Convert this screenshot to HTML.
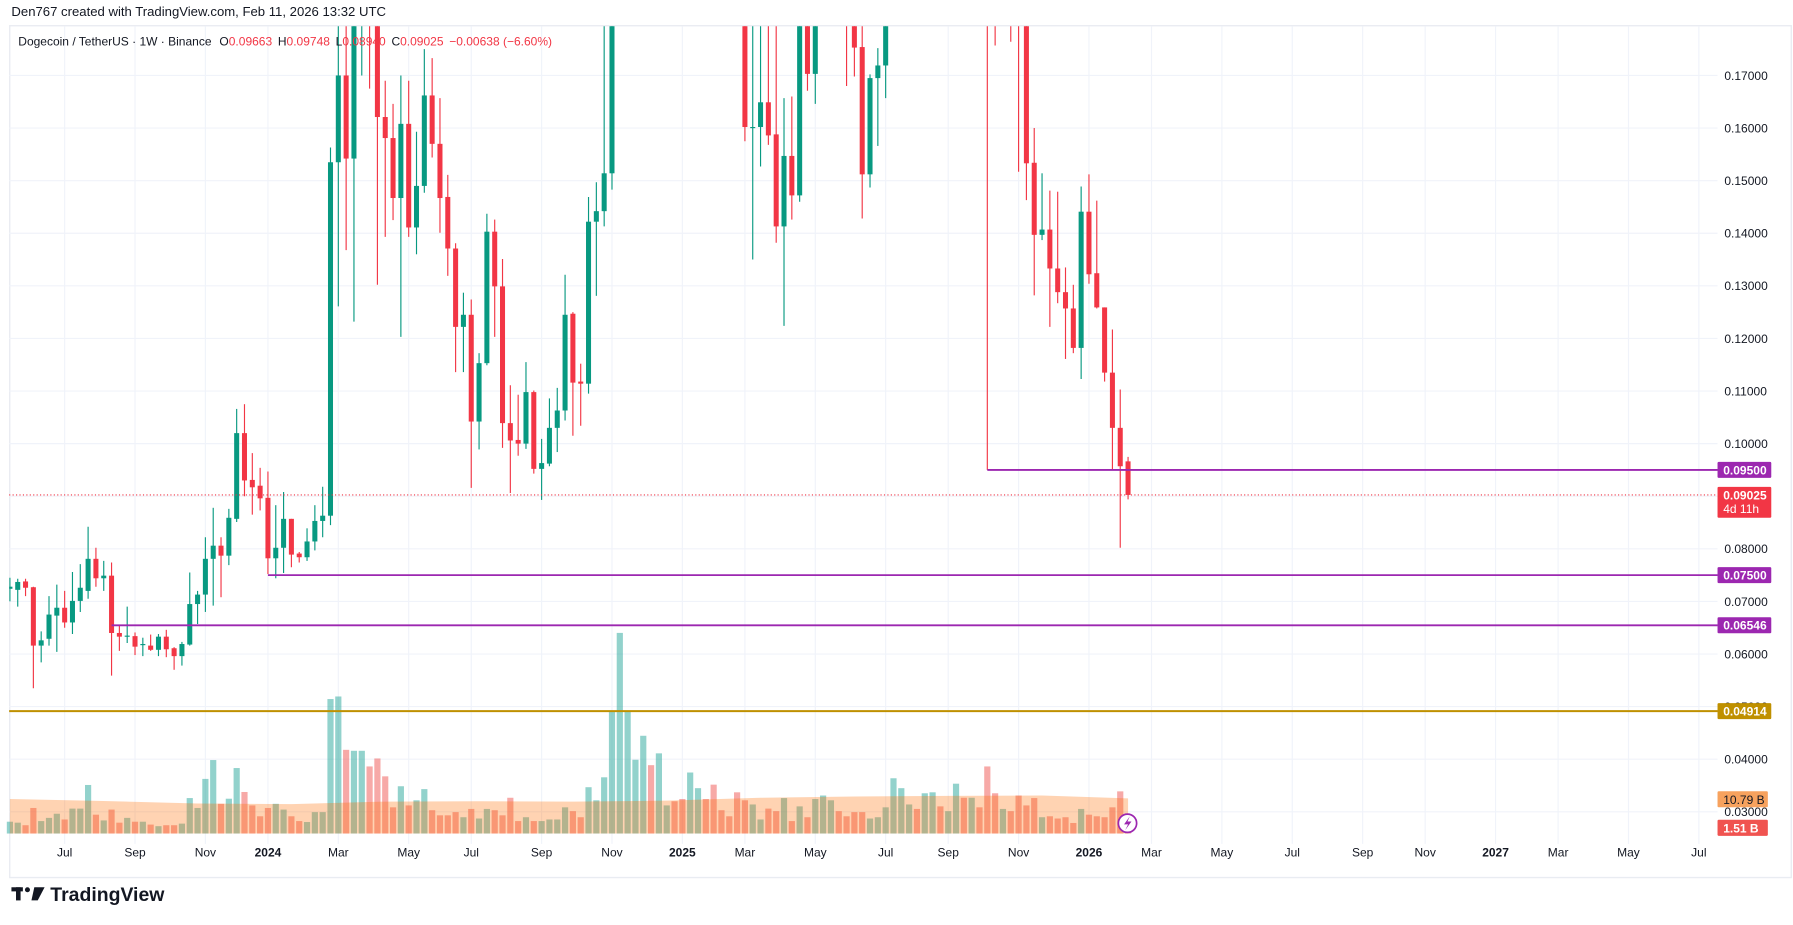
<!DOCTYPE html>
<html><head><meta charset="utf-8">
<style>
html,body{margin:0;padding:0;background:#fff;}
svg{display:block;font-family:"Liberation Sans",sans-serif;}
</style></head>
<body>
<svg id="chart" xmlns="http://www.w3.org/2000/svg" width="1793" height="925" viewBox="0 0 1568 809" preserveAspectRatio="none">
  <rect x="0" y="0" width="1568" height="809" fill="#ffffff"/>
  <text x="10" y="14" font-size="11.5" fill="#131722">Den767 created with TradingView.com, Feb 11, 2026 13:32 UTC</text>
  <rect x="8.5" y="22.5" width="1558" height="745" fill="none" stroke="#e9ecf2" stroke-width="1.2"/>
  <g id="grid"></g>
  <g id="volume"></g>
  <g id="candles" clip-path="url(#plotclip)"></g>
  <defs><clipPath id="plotclip"><rect x="8" y="23" width="1494" height="715"/></clipPath></defs>
  <g id="levels"></g>
  <g id="yaxis"></g>
  <g id="xaxis"></g>
  <text x="16" y="40" font-size="10.5" fill="#131722">Dogecoin / TetherUS · 1W · Binance  <tspan dx="4">O</tspan><tspan fill="#f23645">0.09663</tspan><tspan dx="5">H</tspan><tspan fill="#f23645">0.09748</tspan><tspan dx="5">L</tspan><tspan fill="#f23645">0.08940</tspan><tspan dx="5">C</tspan><tspan fill="#f23645">0.09025</tspan><tspan dx="5" fill="#f23645">−0.00638 (−6.60%)</tspan></text>
  <g>
    <circle cx="986" cy="720" r="8" fill="#fff" stroke="#9c27b0" stroke-width="1.5"/>
    <path d="M988 714 L983 721 L986.5 721 L984 726 L989.5 718.5 L986 718.5 Z" fill="#9c27b0"/>
  </g>
  <g>
    <rect x="10" y="776" width="10" height="3.6" fill="#131722"/>
    <rect x="14" y="776" width="4" height="11.5" fill="#131722"/>
    <circle cx="24" cy="778.2" r="2.2" fill="#131722"/>
    <path d="M30 776 L39 776 L33 787.5 L27.5 787.5 Z" fill="#131722"/>
    <text x="44" y="788" font-size="17" font-weight="bold" fill="#131722">TradingView</text>
  </g>
</svg>
<script>
// ---- data ----
const opens = [.0724,.0722,.0738,.0727,.0616,.0629,.0673,.0688,.0660,.0701,.0720,.0781,.0744,.0749,.0640,.0633,.0634,.0617,.0616,.0608,.0633,.0611,.0596,.0618,.0695,.0713,.0781,.0806,.0787,.0857,.1020,.0931,.0920,.0897,.0782,.0802,
.0857,.0791,.0784,.0814,.0853,.0863,.1535,.1700,.1542,.1850,.2000,.1900,.1621,.1581,.1467,.1608,.1411,.1490,.1662,.1570,.1469,.1371,.1222,.1245,.1042,.1153,.1403,.1299,.1039,.1007,.1000,.1098,.0952,.0962,.1030,.1063,.1247,
.1118,.1114,.1422,.1442,.1514,.190,.220,.25,.30,.40,.39,.42,.44,.40,.32,.34,.38,.36,.33,.27,.25,.210,.1600,.1602,.1649,.1588,.1413,.1547,.1472,.1900,.1703,.19,.21,.23,.200,.200,
.1754,.1512,.1695,.1719,.19,.20,.23,.24,.22,.23,.24,.22,.23,.26,.25,.26,.250,.200,.195,.205,.195,.183,.1534,.1397,.1407,.1333,.1288,.1257,.1182,.1441,.1324,.1259,.1135,.1030,.09663];
const highs = [.0745,.0743,.0743,.0728,.0643,.0710,.0732,.0720,.0756,.0771,.0842,.0802,.0777,.0774,.0655,.0690,.0641,.0631,.0637,.0638,.0646,.0613,.0623,.0755,.0720,.0822,.0878,.0822,.0876,.1066,.1075,.0982,.0954,.0947,.0883,.0908,
.0857,.0794,.0839,.0883,.0918,.1563,.1850,.1850,.2000,.2280,.2100,.2000,.1690,.1646,.1700,.1690,.1593,.1750,.1733,.1657,.1511,.1381,.1287,.1274,.1172,.1437,.1426,.1351,.1111,.1093,.1155,.1101,.1009,.1086,.1106,.1321,.1250,
.1152,.1469,.1497,.1800,.2000,.230,.260,.32,.43,.48,.44,.48,.45,.42,.35,.41,.43,.37,.34,.29,.26,.230,.1900,.1900,.1900,.1900,.1657,.1660,.2000,.2000,.2000,.22,.25,.25,.210,.210,
.1900,.1702,.1752,.2000,.21,.24,.26,.25,.24,.25,.26,.24,.27,.29,.27,.27,.270,.215,.210,.215,.200,.190,.1600,.1514,.1481,.1479,.1335,.1302,.1489,.1512,.1462,.1259,.1217,.1103,.09748];
const lows = [.0700,.0690,.0710,.0535,.0584,.0616,.0604,.0650,.0638,.0680,.0705,.0728,.0720,.0559,.0606,.0621,.0598,.0596,.0606,.0596,.0594,.0570,.0578,.0616,.0657,.0680,.0692,.0708,.0769,.0851,.0900,.0865,.0873,.0752,.0744,.0754,
.0765,.0774,.0777,.0797,.0822,.0845,.1261,.1368,.1232,.1700,.1675,.1302,.1393,.1425,.1203,.1393,.1360,.1477,.1544,.1401,.1319,.1136,.1136,.0916,.0989,.1149,.1203,.0992,.0906,.0977,.0990,.0943,.0893,.0957,.0984,.1044,.1015,
.1034,.1095,.1281,.1413,.1483,.185,.200,.24,.29,.36,.37,.40,.38,.30,.30,.33,.35,.30,.24,.23,.21,.1575,.1350,.1527,.1568,.1382,.1224,.1426,.1460,.1671,.1646,.185,.20,.19,.1680,.1698,
.1428,.1487,.1566,.1657,.185,.195,.22,.21,.20,.22,.21,.20,.22,.24,.23,.24,.0950,.1757,.185,.1764,.1517,.1463,.1282,.1387,.1222,.1267,.1161,.1172,.1123,.1304,.1257,.1118,.0950,.0802,.0894];
const closes = [.0728,.0737,.0726,.0616,.0626,.0675,.0688,.0660,.0701,.0726,.0781,.0744,.0749,.0640,.0633,.0635,.0614,.0619,.0608,.0633,.0609,.0596,.0619,.0695,.0713,.0781,.0806,.0787,.0859,.1020,.0930,.0917,.0896,.0782,.0802,.0857,
.0789,.0784,.0814,.0853,.0863,.1535,.1700,.1542,.1900,.2050,.1900,.1621,.1581,.1467,.1608,.1411,.1490,.1662,.1570,.1467,.1371,.1222,.1245,.1042,.1153,.1403,.1299,.1039,.1006,.1000,.1098,.0952,.0963,.1030,.1063,.1245,.1116,
.1114,.1422,.1442,.1514,.1900,.220,.250,.30,.40,.39,.42,.44,.40,.32,.34,.38,.36,.33,.27,.25,.22,.1602,.1602,.1649,.1586,.1413,.1547,.1472,.1900,.1703,.1900,.21,.23,.20,.190,.1753,
.1512,.1695,.1719,.1900,.20,.23,.24,.22,.23,.24,.22,.23,.26,.25,.26,.25,.200,.195,.205,.190,.183,.1533,.1397,.1407,.1333,.1288,.1257,.1182,.1441,.1322,.1259,.1135,.1030,.0957,.09025];
const volumes = [3.7,3.4,2.6,8.0,3.9,4.9,6.2,4.4,7.8,7.8,15.2,5.9,4.1,7.5,3.4,4.9,3.7,3.7,2.8,2.3,2.6,2.6,3.1,11.1,8.0,17.1,23.0,9.3,10.9,20.5,13.0,8.8,5.4,8.0,9.3,7.5,
5.4,3.9,3.6,6.7,6.7,42.1,42.9,26.2,25.9,25.9,21.0,23.5,17.9,8.2,14.8,8.8,10.4,13.9,7.3,5.7,5.7,6.7,5.1,7.7,4.7,7.7,7.3,5.7,11.2,3.9,5.1,3.9,3.9,4.4,4.4,8.2,7.0,
5.1,14.5,10.4,17.6,38.5,62.8,38.5,23.1,30.6,21.4,25.1,8.8,10.1,10.8,19.1,14.2,10.8,15.3,7.3,5.4,12.9,10.4,9.1,4.4,7.8,7.0,11.1,3.9,8.5,5.1,10.8,11.9,10.4,7.0,5.4,6.7,
6.7,4.7,5.1,8.2,17.3,14.2,9.1,7.7,12.6,12.9,8.5,7.0,15.6,11.2,11.2,8.2,21.0,12.6,7.7,7.0,11.9,8.8,11.1,5.1,5.4,4.7,5.1,3.3,7.7,5.9,5.4,5.1,8.2,13.2,2.4];
const volMA = [10.8,10.2,9.4,9.2,10.0,10.1,10.0,10.3,11.2,11.6,11.8,11.9,11.0];
const priceTicks = [0.03,0.04,0.05,0.06,0.07,0.08,0.09,0.10,0.11,0.12,0.13,0.14,0.15,0.16,0.17];
const timeLabels = ["Jul","Sep","Nov","2024","Mar","May","Jul","Sep","Nov","2025","Mar","May","Jul","Sep","Nov","2026","Mar","May","Jul","Sep","Nov","2027","Mar","May","Jul"];
const timeDates = ["2023-07-01","2023-09-01","2023-11-01","2024-01-01","2024-03-01","2024-05-01","2024-07-01","2024-09-01","2024-11-01","2025-01-01","2025-03-01","2025-05-01","2025-07-01","2025-09-01","2025-11-01","2026-01-01","2026-03-01","2026-05-01","2026-07-01","2026-09-01","2026-11-01","2027-01-01","2027-03-01","2027-05-01","2027-07-01"];
const levelValues = [0.095,0.075,0.06546,0.04914];
const levelLabels = ["0.09500","0.07500","0.06546","0.04914"];
const lastPrice = 0.09025;

// ---- layout ----
const NS = "http://www.w3.org/2000/svg";
const PL = 8, PR = 1502, PT = 23, PB = 738;
const X_LAST = 986.5, STEP = 6.838;
const N = closes.length;
function xOf(i){ return X_LAST - (N-1-i)*STEP; }
function yOf(p){ return 66 + (0.17 - p)*4600; }
const VOL_BASE = 729, VOL_PX = 2.794;
function yVol(v){ return VOL_BASE - v*VOL_PX; }
const LAST_DATE = Date.UTC(2026,1,9);
function xOfDate(s){
  let d = new Date(s+"T00:00:00Z");
  while (d.getUTCDay() !== 1) d = new Date(d.getTime()+86400000);
  const weeks = Math.round((d.getTime()-LAST_DATE)/(7*86400000));
  return X_LAST + weeks*STEP;
}
function mk(tag, attrs, parent){
  const e = document.createElementNS(NS, tag);
  for (const k in attrs) e.setAttribute(k, attrs[k]);
  parent.appendChild(e); return e;
}
const gGrid = document.getElementById('grid');
const gVol = document.getElementById('volume');
const gC = document.getElementById('candles');
const gLev = document.getElementById('levels');
const gY = document.getElementById('yaxis');
const gX = document.getElementById('xaxis');

// grid + price ticks
priceTicks.forEach(function(p){
  const y = yOf(p);
  const l = mk('line',{x1:PL,x2:PR,y1:y,y2:y,stroke:'#f0f3fa','stroke-width':1},gGrid);
  
  
  const t = mk('text',{x:1508,y:y+3.8,'font-size':10.5,fill:'#131722'},gY);
  t.textContent = p.toFixed(5);
  
  
});
timeLabels.forEach(function(lab,i){
  const x = xOfDate(timeDates[i]);
  const l = mk('line',{x1:x,x2:x,y1:PT,y2:PB,stroke:'#f0f3fa','stroke-width':1},gGrid);
  
  
  const isYear = /^\d{4}$/.test(lab);
  const t = mk('text',{x:x,y:749,'font-size':10.5,'text-anchor':'middle',fill:'#131722','font-weight':isYear?'bold':'normal'},gX);
  t.textContent = lab;
  
  
});

// volume bars
for (let i=0;i<N;i++){
  const up = closes[i] >= opens[i];
  const x = xOf(i);
  const y = yVol(volumes[i]);
  const r = mk('rect',{x:x-2.7,y:y,width:5.4,height:VOL_BASE-y,fill:up?'rgba(38,166,154,0.5)':'rgba(239,83,80,0.5)'},gVol);
  
  
}
// volume MA area
(function(){
  let d = 'M'+xOf(0)+' '+VOL_BASE;
  volMA.forEach(function(v,j){
    const idx = Math.min(j*12, N-1);
    d += ' L'+xOf(idx)+' '+yVol(v);
  });
  d += ' L'+xOf(N-1)+' '+VOL_BASE+' Z';
  const a = mk('path',{d:d,fill:'rgba(255,109,0,0.3)'},gVol);
  
  
})();

// candles
for (let i=0;i<N;i++){
  const up = closes[i] >= opens[i];
  const col = up ? '#089981' : '#f23645';
  const x = xOf(i);
  const w = mk('line',{x1:x,x2:x,y1:yOf(highs[i]),y2:yOf(lows[i]),stroke:col,'stroke-width':1},gC);
  
  
  const yt = yOf(Math.max(opens[i],closes[i])), yb = yOf(Math.min(opens[i],closes[i]));
  const b = mk('rect',{x:x-2.2,y:yt,width:4.4,height:Math.max(1,yb-yt),fill:col},gC);
  
  
}

// current price dotted line
(function(){
  const y = yOf(lastPrice);
  const l = mk('line',{x1:PL,x2:PR,y1:y,y2:y,stroke:'#f23645','stroke-width':1,'stroke-dasharray':'1 2'},gLev);
  
  
})();

// horizontal levels
const levelStarts = [xOf(125), xOfDate("2024-01-01"), xOf(13), PL];
levelValues.forEach(function(v,i){
  const y = yOf(v);
  const gold = i===3;
  const col = gold ? '#bf9000' : '#9c27b0';
  const l = mk('line',{x1:levelStarts[i],x2:PR,y1:y,y2:y,stroke:col,'stroke-width':gold?1.8:1.6},gLev);
  
  
  const r = mk('rect',{x:1502,y:y-7,width:47,height:14,fill:col,rx:1},gY);
  
  
  const t = mk('text',{x:1507,y:y+3.8,'font-size':10.5,'font-weight':'bold',fill:'#fff'},gY);
  t.textContent = levelLabels[i];
  
  
});

// last price box
(function(){
  const y = yOf(lastPrice);
  const r = mk('rect',{x:1502,y:y-7,width:47,height:27,fill:'#f23645',rx:1},gY);
  
  
  const t = mk('text',{x:1507,y:y+3.8,'font-size':10.5,'font-weight':'bold',fill:'#fff'},gY);
  t.textContent = lastPrice.toFixed(5);
  
  
  const t2 = mk('text',{x:1507,y:y+16,'font-size':10.5,fill:'#fff'},gY);
  t2.textContent = '4d 11h';
  
  
})();
// volume labels
(function(){
  const r1 = mk('rect',{x:1502,y:692,width:44,height:14,fill:'#f7a25e',rx:1},gY);
  
  
  const t1 = mk('text',{x:1507,y:703,'font-size':10.5,fill:'#131722'},gY);
  t1.textContent = '10.79 B';
  
  
  const r2 = mk('rect',{x:1502,y:717,width:44,height:14,fill:'#f05350',rx:1},gY);
  
  
  const t2 = mk('text',{x:1507,y:728,'font-size':10.5,'font-weight':'bold',fill:'#fff'},gY);
  t2.textContent = '1.51 B';
  
  
})();
</script>
</body></html>
